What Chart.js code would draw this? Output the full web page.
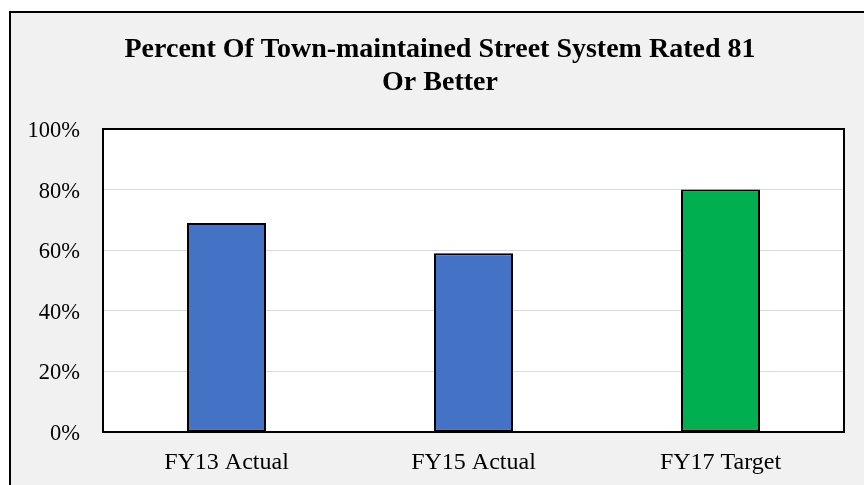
<!DOCTYPE html>
<html>
<head>
<meta charset="utf-8">
<script src="https://cdn.jsdelivr.net/npm/chart.js@4/dist/chart.umd.min.js"></script>
<style>
  html, body { margin: 0; padding: 0; background: #ffffff; overflow: hidden; }
  #frame { position: absolute; left: 9px; top: 11px; width: 900px; height: 520px;
           border: 2px solid #000; background: #f1f1f1; box-sizing: border-box; }
  #wrap { position: absolute; left: 0; top: 0; width: 864px; height: 485px; }
</style>
</head>
<body>
<div id="frame"></div>
<div id="wrap"><canvas id="c" width="864" height="485"></canvas></div>
<script>
const titleLines = ["Percent Of Town-maintained Street System Rated 81", "Or Better"];
const categories = ["FY13 Actual", "FY15 Actual", "FY17 Target"];
const values = [0.69, 0.59, 0.80];
const yTicks = [0, 0.2, 0.4, 0.6, 0.8, 1.0];
const barColors = ["#4472C4", "#4472C4", "#00B050"];

const FONT = "'Liberation Serif', 'Times New Roman', serif";

const plotFrame = {
  id: 'plotFrame',
  beforeDraw(chart) {
    const a = chart.chartArea, ctx = chart.ctx;
    ctx.save();
    ctx.fillStyle = '#ffffff';
    ctx.fillRect(a.left, a.top, a.right - a.left, a.bottom - a.top);
    ctx.restore();
  },
  afterDraw(chart) {
    const a = chart.chartArea, ctx = chart.ctx;
    ctx.save();
    ctx.strokeStyle = '#000';
    ctx.lineWidth = 2;
    ctx.strokeRect(a.left, a.top, a.right - a.left, a.bottom - a.top);
    // chart title (centred on the outer frame)
    ctx.fillStyle = '#000';
    ctx.font = "bold 28px " + FONT;
    ctx.textAlign = 'center';
    ctx.textBaseline = 'alphabetic';
    titleLines.forEach((t, i) => ctx.fillText(t, 440, 57 + i * 33));
    ctx.restore();
  }
};

new Chart(document.getElementById('c'), {
  type: 'bar',
  data: {
    labels: categories,
    datasets: [{
      data: values,
      backgroundColor: barColors,
      borderColor: '#000',
      borderWidth: 2,
      borderSkipped: false,
      barPercentage: 0.32,
      categoryPercentage: 1.0
    }]
  },
  options: {
    responsive: false,
    animation: false,
    devicePixelRatio: 1,
    layout: { padding: { left: 0, right: 20, top: 129, bottom: 0 } },
    plugins: {
      legend: { display: false },
      tooltip: { enabled: false },
      title: { display: false }
    },
    scales: {
      x: {
        grid: { display: false, drawTicks: false },
        border: { display: false },
        ticks: { color: '#000', font: { family: FONT, size: 24 }, padding: 16 },
        afterFit(s) { s.height = 53; }
      },
      y: {
        min: 0, max: 1,
        afterBuildTicks(s) { s.ticks = yTicks.map(v => ({ value: v })); },
        grid: { color: '#d9d9d9', lineWidth: 1, drawTicks: false },
        border: { display: false },
        ticks: {
          color: '#000', font: { family: FONT, size: 22.5 }, padding: 23, labelOffset: 2,
          callback: v => Math.round(v * 100) + '%'
        },
        afterFit(s) { s.width = 103; }
      }
    }
  },
  plugins: [plotFrame]
});
</script>
</body>
</html>
